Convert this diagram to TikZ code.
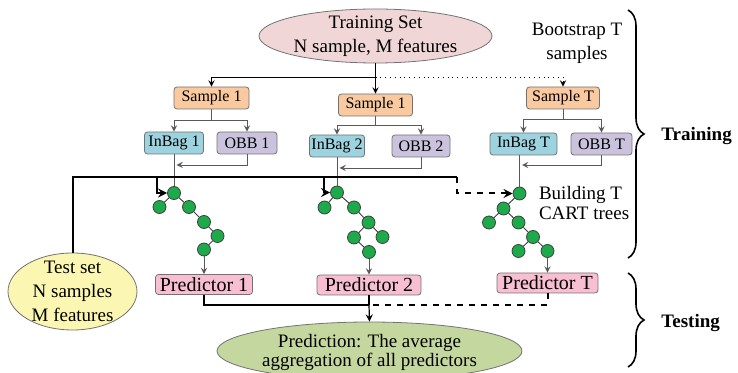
\documentclass[tikz,border=0pt]{standalone}
\usepackage{fontspec}
\setmainfont{Liberation Serif}
\usetikzlibrary{calc}
\usetikzlibrary{arrows.meta,shapes.geometric,decorations.pathreplacing}
\tikzset{>=stealth}
\definecolor{trainpink}{HTML}{F0D6D6}
\definecolor{sampleorange}{HTML}{F9C9A0}
\definecolor{inbagblue}{HTML}{9DD3DF}
\definecolor{obbpurple}{HTML}{CBC3DE}
\definecolor{predpink}{HTML}{F7BFD1}
\definecolor{testyellow}{HTML}{FBF6B1}
\definecolor{predgreen}{HTML}{C4D79F}
\definecolor{treegreen}{HTML}{1DAA4A}
\newcommand*{\bigtext}{\fontsize{9.5}{12}\selectfont}
\newcommand*{\boxtext}{\fontsize{8}{9.5}\selectfont}
\newcommand*{\cart}[2]
  {\node[leaf] (#1) at (#2) {}}

\begin{document}
\begin{tikzpicture}[x=0.5pt,y=-0.5pt,
  box/.style={draw=black!55,rounded corners=1.5pt,inner sep=1pt,
    minimum height=11pt,font=\boxtext},
  predbox/.style={box,fill=predpink,minimum height=10pt,
    font=\fontsize{10}{12}\selectfont},
  blob/.style={ellipse,draw=black!55,inner sep=0pt},
  leaf/.style={circle,draw=black!75,fill=treegreen,minimum size=6.5pt,
    inner sep=0pt},
  branch/.style={draw=black!65,line width=0.4pt},
  treeline/.style={draw=black!75,line width=0.5pt},
  heavy/.style={line width=1pt},
  phase/.style={font=\bigtext\bfseries,anchor=west,inner sep=0pt}]
\useasboundingbox (0,0) rectangle (738,373);
\clip (0,0) rectangle (738,373);

% training set and bootstrap samples
\node[blob,fill=trainpink,minimum width=116.5pt,minimum height=27pt]
  (train) at (375.5,36) {};
\node[font=\bigtext,align=center] (traintext) at (train)
  {Training Set\\N sample, M features};
\node[font=\bigtext,align=center] (boot) at (577,43)
  {Bootstrap T\\samples};

\node[box,fill=sampleorange,minimum width=37.5pt] (s1) at (211.5,98) {Sample 1};
\node[box,fill=sampleorange,minimum width=37pt] (s2) at (375.5,105) {Sample 1};
\node[box,fill=sampleorange,minimum width=36.5pt] (sT) at (563,98) {Sample T};

\node[box,fill=inbagblue,minimum width=29.5pt] (in1) at (174,143) {InBag 1};
\node[box,fill=obbpurple,minimum width=30pt] (ob1) at (247,143) {OBB 1};
\node[box,fill=inbagblue,minimum width=27pt] (in2) at (337,146) {InBag 2};
\node[box,fill=obbpurple,minimum width=29pt] (ob2) at (421,146) {OBB 2};
\node[box,fill=inbagblue,minimum width=33.5pt] (inT) at (523.5,144) {InBag T};
\node[box,fill=obbpurple,minimum width=30.5pt] (obT) at (601.5,144) {OBB T};

\coordinate (split) at (375.5,77);
\draw[branch,black] (train.south) -- (split);
\draw[branch,black,->] (split) -| (s1.north);
\draw[branch,black,->] (split) -- (s2.north);
\draw[branch,black,dotted,->] (split) -| (sT.north);

\draw[branch] (s1.south) -- ++(0,11) coordinate (f1);
\draw[branch,->] (f1) -| (in1.north);
\draw[branch,->] (f1) -| (ob1.north);
\draw[branch] (s2.south) -- ++(0,9) coordinate (f2);
\draw[branch,->] (f2) -| (in2.north);
\draw[branch,->] (f2) -| (ob2.north);
\draw[branch] (sT.south) -- ++(0,10) coordinate (fT);
\draw[branch,->] (fT) -| (inT.north);
\draw[branch,->] (fT) -| (obT.north);

% CART trees
\cart{r1}{174,193};
\cart{a1}{159.5,207};
\cart{b1}{189,207};
\cart{c1}{204,222};
\cart{d1}{217.5,236};
\cart{e1}{204,249.5};
\draw[treeline] (r1) -- (a1);
\draw[treeline] (r1) -- (b1) -- (c1) -- (d1) -- (e1);

\cart{r2}{337,192.5};
\cart{a2}{324.5,207.5};
\cart{b2}{354,207.5};
\cart{c2}{368.5,222.5};
\cart{d2}{354,237.5};
\cart{g2}{382.5,237};
\cart{e2}{369,252};
\draw[treeline] (r2) -- (a2);
\draw[treeline] (r2) -- (b2) -- (c2) -- (d2) -- (e2);
\draw[treeline] (c2) -- (g2);

\cart{rT}{519.5,193.5};
\cart{aT}{503.5,208.5};
\cart{bT}{489,222.5};
\cart{cT}{518.5,222.5};
\cart{dT}{533,237};
\cart{eT}{518.5,251};
\cart{gT}{547.5,251};
\draw[treeline] (rT) -- (aT) -- (bT);
\draw[treeline] (aT) -- (cT) -- (dT) -- (eT);
\draw[treeline] (dT) -- (gT);

\node[font=\bigtext,align=left,anchor=west] (build) at (532,203.5)
  {Building T\\[-2pt]CART trees};

% in-bag and out-of-bag into the trees
\draw[branch] (in1.south) -- (r1);
\draw[branch] (in2.south) -- (r2);
\draw[branch] (rT |- inT.south) -- (rT);
\coordinate (j1) at (176.5,165);
\coordinate (j2) at (339.5,168);
\coordinate (jT) at (522,165);
\draw[branch,->] (ob1.south) |- (j1);
\draw[branch,->] (ob2.south) |- (j2);
\draw[branch,->] (obT.south) |- (jT);

% test set
\node[blob,fill=testyellow,minimum width=64.5pt,minimum height=38.5pt]
  (test) at (72.5,291.5) {};
\node[font=\bigtext,align=center] (testtext) at (test)
  {Test set\\N samples\\M features};
\coordinate (t1) at (157,177);
\coordinate (t2) at (324,177);
\coordinate (tcorner) at (457,177);
\draw[heavy] (test.north) |- (tcorner);
\draw[heavy,->] (t1) |- (r1);
\draw[heavy,->] (t2) |- (r2);
\draw[heavy,dashed,->] (tcorner) |- (rT);

% predictors
\node[predbox,minimum width=48.5pt] (p1) at (204,284.5) {Predictor 1};
\node[predbox,minimum width=52pt] (p2) at (369,285) {Predictor 2};
\node[predbox,minimum width=50.5pt] (pT) at (547.5,283) {Predictor T};
\draw[branch,->] (e1) -- (p1.north);
\draw[branch,->] (e2) -- (p2.north);
\draw[branch,->] (gT) -- (pT.north);

\node[blob,fill=predgreen,minimum width=152.5pt,minimum height=29pt]
  (pred) at (369.5,351) {};
\node[font=\bigtext,align=center] (predtext) at (369.5,352)
  {Prediction: The average\\[-2.5pt]aggregation of all predictors};
\coordinate (m) at (369,305);
\draw[line width=0.6pt] (p1.south) |- (m);
\draw[line width=0.6pt] (p2.south) -- (m);
\draw[heavy,dashed] (pT.south) |- (m);
\draw[line width=0.6pt,->] (m) -- (pred.north);

% phases
\draw[line width=0.8pt,decorate,decoration={brace,amplitude=8pt}]
  (628,10) -- (628,258);
\draw[line width=0.8pt,decorate,decoration={brace,amplitude=8pt}]
  (628,273) -- (628,367);
\node[phase] (train phase) at (661,136) {Training};
\node[phase] (test phase) at (661,323) {Testing};
\end{tikzpicture}
\end{document}
